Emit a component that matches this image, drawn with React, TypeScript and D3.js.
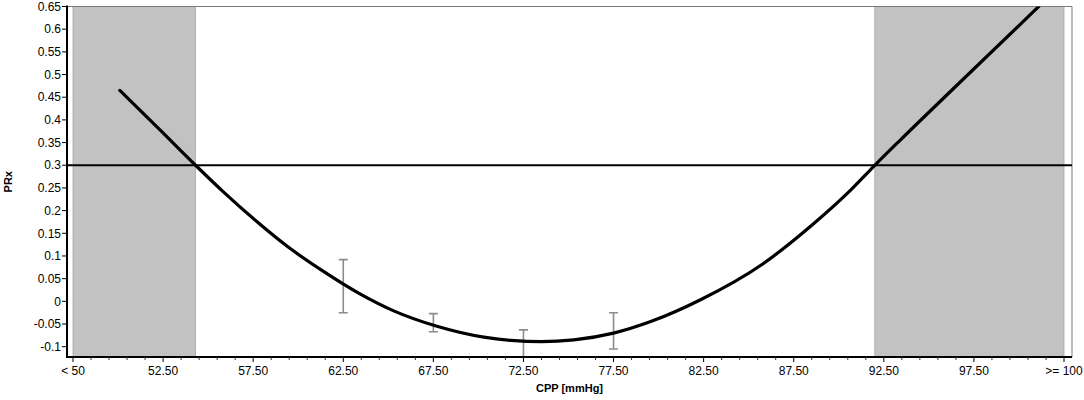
import { useEffect, useRef } from 'react';
import * as d3 from 'd3';

// CPP (bin centres) vs PRx curve
const cppValues = [50.1, 52.3, 54.3, 55.8, 57.7, 59.5, 61.4, 63.4, 65.3, 67.7, 70.3, 71.8, 73.5, 75.3, 77.5, 79.6, 82.3, 85.8, 88.6, 90.5, 92.0, 93.4, 96.6, 101.1];
const prxValues = [0.465, 0.379, 0.3, 0.243, 0.176, 0.118, 0.066, 0.017, -0.021, -0.055, -0.079, -0.086, -0.089, -0.085, -0.07, -0.044, 0.003, 0.083, 0.171, 0.239, 0.3, 0.355, 0.478, 0.65];

// error bars
const errCpp = [62.5, 67.5, 72.5, 77.5];
const errLow = [-0.025, -0.067, -0.14, -0.105];
const errHigh = [0.092, -0.027, -0.063, -0.025];

// shaded ranges outside the optimal CPP window
const shadeStart = [47.5, 92.0];
const shadeEnd = [54.3, 102.5];

const threshold = 0.3;

const xTickValues = [47.5, 52.5, 57.5, 62.5, 67.5, 72.5, 77.5, 82.5, 87.5, 92.5, 97.5, 102.5];
const xTickLabels = ['< 50', '52.50', '57.50', '62.50', '67.50', '72.50', '77.50', '82.50', '87.50', '92.50', '97.50', '>= 100'];
const yTickValues = [0.65, 0.6, 0.55, 0.5, 0.45, 0.4, 0.35, 0.3, 0.25, 0.2, 0.15, 0.1, 0.05, 0, -0.05, -0.1];
const yTickLabels = ['0.65', '0.6', '0.55', '0.5', '0.45', '0.4', '0.35', '0.3', '0.25', '0.2', '0.15', '0.1', '0.05', '0', '-0.05', '-0.1'];

const WIDTH = 1084;
const HEIGHT = 400;

export default function App() {
  const svgRef = useRef<SVGSVGElement>(null);

  useEffect(() => {
    if (!svgRef.current) return;
    const svg = d3.select(svgRef.current);
    svg.selectAll('*').remove();

    const left = 67;
    const right = 1072;
    const top = 6.5;
    const bottom = 357;

    const x = d3.scaleLinear().domain([47.5, 102.5]).range([73, 1064]);
    const y = d3.scaleLinear().domain([-0.1, 0.65]).range([346.7, 6.5]);

    const font = 'Arial, "Liberation Sans", sans-serif';

    svg.append('defs')
      .append('clipPath')
      .attr('id', 'plot-clip')
      .append('rect')
      .attr('x', left)
      .attr('y', top)
      .attr('width', right - left)
      .attr('height', bottom - top);

    // shaded regions
    svg.append('g')
      .selectAll('rect')
      .data(shadeStart)
      .join('rect')
      .attr('x', (d) => x(d))
      .attr('y', top)
      .attr('width', (d, i) => x(shadeEnd[i]) - x(d))
      .attr('height', bottom - top)
      .attr('fill', '#c2c2c2')
      .attr('stroke', '#a6a6a6')
      .attr('stroke-width', 0.8);

    // frame (top, right)
    svg.append('path')
      .attr('d', `M${left},${top}H${right}V${bottom}`)
      .attr('fill', 'none')
      .attr('stroke', '#7a7a7a')
      .attr('stroke-width', 1);

    const plot = svg.append('g').attr('clip-path', 'url(#plot-clip)');

    // threshold line
    plot.append('line')
      .attr('x1', left)
      .attr('x2', right)
      .attr('y1', y(threshold))
      .attr('y2', y(threshold))
      .attr('stroke', '#000')
      .attr('stroke-width', 2.2);

    // error bars
    const bars = plot.append('g')
      .attr('stroke', '#8c8c8c')
      .attr('stroke-width', 1.6)
      .attr('fill', 'none');
    errCpp.forEach((c, i) => {
      const cx = x(c);
      bars.append('path')
        .attr('d', `M${cx},${y(errLow[i])}V${y(errHigh[i])}M${cx - 4.5},${y(errHigh[i])}H${cx + 4.5}M${cx - 4.5},${y(errLow[i])}H${cx + 4.5}`);
    });

    // PRx curve
    const line = d3.line<number>()
      .x((d) => x(d))
      .y((_, i) => y(prxValues[i]))
      .curve(d3.curveMonotoneX);

    plot.append('path')
      .datum(cppValues)
      .attr('d', line)
      .attr('fill', 'none')
      .attr('stroke', '#000')
      .attr('stroke-width', 3.2)
      .attr('stroke-linecap', 'round')
      .attr('stroke-linejoin', 'round');

    // x axis
    const xAxis = svg.append('g').attr('font-family', font).attr('font-size', 12);
    xAxis.append('line')
      .attr('x1', left)
      .attr('x2', right)
      .attr('y1', bottom)
      .attr('y2', bottom)
      .attr('stroke', '#000')
      .attr('stroke-width', 2);

    const minorTicks = d3.range(47.5, 102.6, 1).filter((v) => !xTickValues.includes(v));
    xAxis.selectAll('line.minor')
      .data(minorTicks)
      .join('line')
      .attr('class', 'minor')
      .attr('x1', (d) => x(d))
      .attr('x2', (d) => x(d))
      .attr('y1', bottom)
      .attr('y2', bottom + 3)
      .attr('stroke', '#333')
      .attr('stroke-width', 1);

    xAxis.selectAll('line.major')
      .data(xTickValues)
      .join('line')
      .attr('class', 'major')
      .attr('x1', (d) => x(d))
      .attr('x2', (d) => x(d))
      .attr('y1', bottom)
      .attr('y2', bottom + 5)
      .attr('stroke', '#000')
      .attr('stroke-width', 1);

    xAxis.selectAll('text')
      .data(xTickValues)
      .join('text')
      .attr('x', (d) => x(d))
      .attr('y', 375)
      .attr('text-anchor', 'middle')
      .attr('fill', '#000')
      .text((_, i) => xTickLabels[i]);

    // y axis
    const yAxis = svg.append('g').attr('font-family', font).attr('font-size', 12);
    yAxis.append('line')
      .attr('x1', left)
      .attr('x2', left)
      .attr('y1', top - 1)
      .attr('y2', bottom + 1)
      .attr('stroke', '#000')
      .attr('stroke-width', 2);

    yAxis.selectAll('line.tick')
      .data(yTickValues)
      .join('line')
      .attr('class', 'tick')
      .attr('x1', left - 5)
      .attr('x2', left)
      .attr('y1', (d) => y(d))
      .attr('y2', (d) => y(d))
      .attr('stroke', '#000')
      .attr('stroke-width', 1);

    yAxis.selectAll('text')
      .data(yTickValues)
      .join('text')
      .attr('x', left - 6)
      .attr('y', (d) => y(d))
      .attr('dy', '0.35em')
      .attr('text-anchor', 'end')
      .attr('fill', '#000')
      .text((_, i) => yTickLabels[i]);

    // axis titles
    svg.append('text')
      .attr('x', (left + right) / 2)
      .attr('y', 392)
      .attr('text-anchor', 'middle')
      .attr('font-family', font)
      .attr('font-size', 11)
      .attr('font-weight', 'bold')
      .text('CPP [mmHg]');

    svg.append('text')
      .attr('transform', `translate(12, ${(top + bottom) / 2}) rotate(-90)`)
      .attr('text-anchor', 'middle')
      .attr('font-family', font)
      .attr('font-size', 11)
      .attr('font-weight', 'bold')
      .text('PRx');
  }, []);

  return (
    <svg
      ref={svgRef}
      width={WIDTH}
      height={HEIGHT}
      style={{ position: 'absolute', left: 0, top: 0, background: '#fff', display: 'block' }}
    />
  );
}
